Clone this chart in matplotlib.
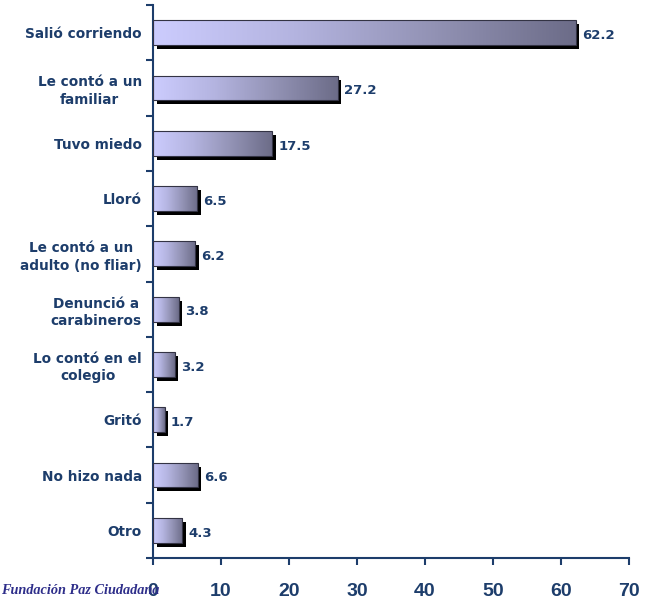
import matplotlib
matplotlib.use("Agg")
import matplotlib.pyplot as plt
import numpy as np
from matplotlib.colors import LinearSegmentedColormap
import matplotlib.transforms as mtransforms

categories = ["Salió corriendo", "Le contó a un\nfamiliar", "Tuvo miedo", "Lloró",
              "Le contó a un\nadulto (no fliar)", "Denunció a\ncarabineros",
              "Lo contó en el\ncolegio", "Gritó", "No hizo nada", "Otro"]
values = [62.2, 27.2, 17.5, 6.5, 6.2, 3.8, 3.2, 1.7, 6.6, 4.3]
value_labels = ["62.2", "27.2", "17.5", "6.5", "6.2", "3.8", "3.2", "1.7", "6.6", "4.3"]
xticks = [0, 10, 20, 30, 40, 50, 60, 70]

navy = "#1D3D6B"
cmap = LinearSegmentedColormap.from_list("g", ["#CCCCFE", "#B4B4E0", "#9292B4", "#6C6C88"])

fig = plt.figure(figsize=(6.46, 6.04), dpi=100)
ax = fig.add_axes([153 / 646, 1 - 558 / 604, 476 / 646, 553 / 604])

n = len(categories)
ypos = np.arange(n)
h = 0.45
ax.set_xlim(0, 70)
ax.set_ylim(n - 0.5, -0.5)

shadow_tr = mtransforms.offset_copy(ax.transData, fig=fig, x=3.5, y=-4, units="dots")
grad = np.linspace(0, 1, 256).reshape(1, -1)
for y, v, lab in zip(ypos, values, value_labels):
    ax.add_patch(plt.Rectangle((0, y - h / 2), v, h, facecolor="black",
                               edgecolor="none", transform=shadow_tr, zorder=1))
    im = ax.imshow(grad, cmap=cmap, aspect="auto",
                   extent=[0, v, y + h / 2, y - h / 2], zorder=2, interpolation="bilinear")
    rect = plt.Rectangle((0, y - h / 2), v, h, facecolor="none",
                         edgecolor="#333344", linewidth=0.8, zorder=3)
    ax.add_patch(rect)
    im.set_clip_path(rect)
    ax.annotate(lab, xy=(v, y), xytext=(4.5, -2), textcoords="offset points",
                ha="left", va="center", fontsize=9.5, fontweight="bold", color=navy, zorder=4)

ax.set_xlim(0, 70)
ax.set_ylim(n - 0.5, -0.5)

ax.set_yticks(ypos)
ax.set_yticklabels(categories, fontsize=9.8, fontweight="bold", color=navy,
                   ha="right", multialignment="center", linespacing=1.3)
ax.tick_params(axis="y", which="major", length=0, pad=8)
ax.set_yticks(np.arange(-0.5, n, 1), minor=True)
ax.tick_params(axis="y", which="minor", length=5, width=1.5, color=navy)

ax.set_xticks(xticks)
ax.set_xticklabels([str(t) for t in xticks], fontsize=14, fontweight="bold", color=navy,
                   family="Liberation Sans")
ax.tick_params(axis="x", length=5, width=1.5, color=navy, pad=13)

for s in ["top", "right"]:
    ax.spines[s].set_visible(False)
for s in ["left", "bottom"]:
    ax.spines[s].set_color(navy)
    ax.spines[s].set_linewidth(1.5)

fig.text(0.002, 1 - 591 / 604, "Fundación Paz Ciudadana", fontsize=10.3, style="italic",
         fontweight="bold", family="Liberation Serif", color="#2E2E8A", ha="left", va="center",
         zorder=0)

fig.savefig("out.png", dpi=100)
